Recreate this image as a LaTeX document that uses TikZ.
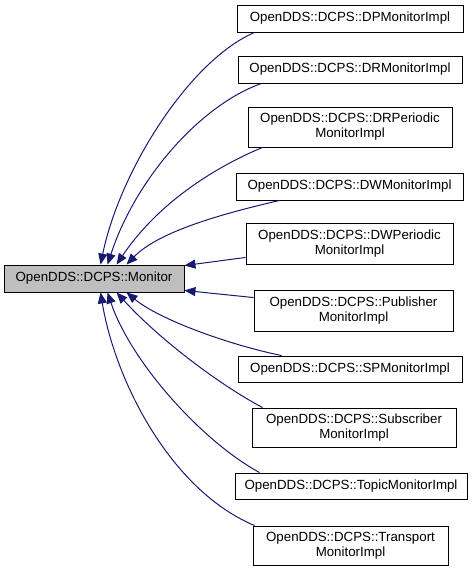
\documentclass[tikz,border=0pt]{standalone}
\usepackage{fontspec}
\setmainfont{Liberation Sans}
\usetikzlibrary{arrows.meta}
\definecolor{edgeblue}{RGB}{25,25,112}
\definecolor{basegray}{RGB}{191,191,191}
\begin{document}
\begin{tikzpicture}[x=1pt,y=-1pt,
  box/.style={draw=black,line width=0.9pt,fill=white,inner sep=0pt,align=center,
    font=\fontsize{13.3}{15}\selectfont},
  basebox/.style={box,fill=basegray},
  edge/.style={draw=edgeblue,line width=1pt,-{Triangle[length=11pt,width=9pt]}}]
\useasboundingbox (0,0) rectangle (473,571);
\node[basebox,minimum width=180pt,minimum height=27pt] (mon) at (94,278.5) {OpenDDS::DCPS::Monitor};
\node[box,minimum width=226pt,minimum height=27pt] (dp) at (350,18.5) {OpenDDS::DCPS::DPMonitorImpl};
\node[box,minimum width=224pt,minimum height=27pt] (dr) at (350,69.5) {OpenDDS::DCPS::DRMonitorImpl};
\node[box,minimum width=204pt,minimum height=40pt] (drp) at (350,127) {OpenDDS::DCPS::DRPeriodic\\MonitorImpl};
\node[box,minimum width=227pt,minimum height=27pt] (dw) at (349.5,186.5) {OpenDDS::DCPS::DWMonitorImpl};
\node[box,minimum width=207pt,minimum height=41pt] (dwp) at (349.5,243.5) {OpenDDS::DCPS::DWPeriodic\\MonitorImpl};
\node[box,minimum width=199pt,minimum height=41pt] (pub) at (353.5,310.5) {OpenDDS::DCPS::Publisher\\MonitorImpl};
\node[box,minimum width=224pt,minimum height=26pt] (sp) at (350,369) {OpenDDS::DCPS::SPMonitorImpl};
\node[box,minimum width=204pt,minimum height=39pt] (sub) at (354,427.5) {OpenDDS::DCPS::Subscriber\\MonitorImpl};
\node[box,minimum width=232pt,minimum height=26pt] (topic) at (351,486) {OpenDDS::DCPS::TopicMonitorImpl};
\node[box,minimum width=195pt,minimum height=39pt] (trans) at (350.5,545.5) {OpenDDS::DCPS::Transport\\MonitorImpl};
% edges to the top of the base box
\draw[edge] ([xshift=18pt]dp.south west) .. controls (190,60) and (120,170) .. ([xshift=97pt]mon.north west);
\draw[edge] ([xshift=24pt]dr.south west) .. controls (200,105) and (135,180) .. ([xshift=104pt]mon.north west);
\draw[edge] ([xshift=15pt]drp.south west) .. controls (220,165) and (160,200) .. ([xshift=113pt]mon.north west);
\draw[edge] ([xshift=44pt]dw.south west) .. controls (230,212) and (160,230) .. ([xshift=123pt]mon.north west);
% edges to the right side
\draw[edge] ([yshift=7pt]dwp.south west) -- ([yshift=-1pt]mon.north east);
\draw[edge] ([yshift=-8pt]pub.north west) -- ([yshift=2pt]mon.south east);
% edges to the bottom
\draw[edge] ([xshift=44pt]sp.north west) .. controls (230,345) and (160,320) .. ([xshift=123pt]mon.south west);
\draw[edge] ([xshift=11pt]sub.north west) .. controls (220,385) and (160,340) .. ([xshift=113pt]mon.south west);
\draw[edge] ([xshift=25pt]topic.north west) .. controls (200,440) and (130,360) .. ([xshift=104pt]mon.south west);
\draw[edge] ([xshift=2pt]trans.north west) .. controls (170,490) and (115,380) .. ([xshift=97pt]mon.south west);
\end{tikzpicture}
\end{document}
